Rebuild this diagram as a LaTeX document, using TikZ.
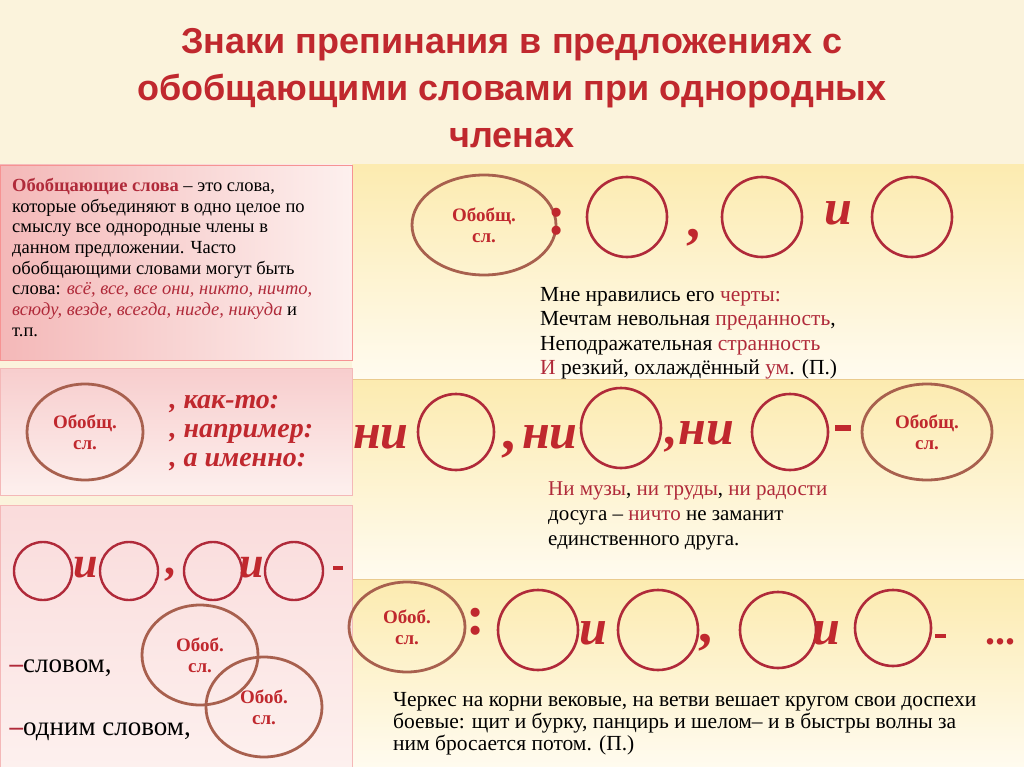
\documentclass[tikz,border=0pt]{standalone}
\usepackage{fontspec}
\setmainfont{Liberation Serif}
\newfontfamily\titlefont{Liberation Sans}
\usetikzlibrary{shapes.geometric}
\definecolor{tred}{HTML}{C0282E}
\definecolor{cred}{HTML}{B02A3A}
\definecolor{brn}{HTML}{A8604E}
\definecolor{bg}{HTML}{FBF3DC}
\definecolor{pinkA}{HTML}{F4B8B8}
\definecolor{pinkB}{HTML}{FDF0EE}
\definecolor{yelA}{HTML}{FCEBB0}
\definecolor{yelB}{HTML}{FFFBEF}
\tikzset{
 x=1pt,y=-1pt,
 ring/.style={draw=cred,line width=2.6pt,circle,minimum size=80pt,inner sep=0},
 sring/.style={draw=cred,line width=2.4pt,circle,minimum size=58pt,inner sep=0},
 gen/.style={draw=brn,line width=2.8pt,ellipse,text=tred,font=\fontsize{19}{21}\selectfont\bfseries,align=center,inner sep=0},
 sym/.style={text=tred,font=\fontsize{56}{56}\selectfont\bfseries},
 isym/.style={text=tred,font=\fontsize{50}{50}\selectfont\bfseries\itshape},
 dsh/.style={fill=tred},
 body/.style={anchor=north west,align=left,font=\fontsize{21.5}{24.5}\selectfont,inner sep=0},
}
\begin{document}
\begin{tikzpicture}
\useasboundingbox (0,0) rectangle (1024,767);
\fill[bg] (0,0) rectangle (1024,767);
\node[text=tred,font=\titlefont\fontsize{36}{47}\selectfont\bfseries,align=center] (title) at (512,88)
 {Знаки препинания в предложениях с\\обобщающими словами при однородных\\членах};
% panels
\shade[top color=yelA,bottom color=yelB] (352,165) rectangle (1024,378);
\shade[top color=yelA,bottom color=yelB] (352,380) rectangle (1024,578);
\shade[top color=yelA,bottom color=yelB] (352,580) rectangle (1024,767);
\draw[yelA!70!brown,line width=1pt] (352,379) -- (1024,379) (352,579) -- (1024,579);
\shade[left color=pinkA,right color=pinkB,draw=pinkA!80!red] (0,165) rectangle (352,360);
\shade[top color=pinkA!70,bottom color=pinkB,draw=pinkA] (0,368) rectangle (352,495);
\shade[top color=pinkA!50,bottom color=pinkB,draw=pinkA] (0,505) rectangle (352,767);
% left 1
\node[body,font=\fontsize{18.5}{20.7}\selectfont] (def) at (12,178) {\textcolor{cred}{\textbf{Обобщающие слова}} -- это слова,\\которые объединяют в одно целое по\\смыслу все однородные члены в\\данном предложении. Часто\\обобщающими словами могут быть\\слова: \textcolor{cred}{\itshape всё, все, все они, никто, ничто,}\\\textcolor{cred}{\itshape всюду, везде, всегда, нигде, никуда} и\\т.п.};
% left 2
\node[gen,minimum width=116pt,minimum height=96pt] (g1) at (85,432) {Обобщ.\\сл.};
\node[anchor=west,text=tred,font=\fontsize{28}{29}\selectfont\bfseries\itshape,align=left] (kak) at (166,433) {, как-то:\\, например:\\, а именно:};
% left 3
\node[sring] (l1) at (43,571) {};
\node[isym,font=\fontsize{44}{44}\selectfont\bfseries\itshape] (li1) at (86,568) {и};
\node[sring] (l2) at (129,571) {};
\node[sym,font=\fontsize{44}{44}\selectfont\bfseries] (lc) at (170,575) {,};
\node[sring] (l3) at (213,571) {};
\node[isym,font=\fontsize{44}{44}\selectfont\bfseries\itshape] (li2) at (252,568) {и};
\node[sring] (l4) at (294,571) {};
\node[dsh,minimum width=10pt,minimum height=4pt,inner sep=0] (ld) at (338,568) {};
\node[anchor=west,font=\fontsize{27}{27}\selectfont] (sl1) at (6,668) {\textcolor{cred}{\textbf{–}}словом,};
\node[anchor=west,font=\fontsize{27}{27}\selectfont] (sl2) at (6,732) {\textcolor{cred}{\textbf{–}}одним словом,};
\node[gen,minimum width=116pt,minimum height=100pt] (g2) at (200,655) {Обоб.\\сл.};
\node[gen,minimum width=116pt,minimum height=100pt] (g3) at (264,707) {Обоб.\\сл.};
% right 1
\node[gen,minimum width=144pt,minimum height=100pt] (g4) at (484,225) {Обобщ.\\сл.};
\node[sym] (c1) at (557,222) {:};
\node[ring] (r1) at (627,217) {};
\node[sym] (cm1) at (693,238) {,};
\node[ring] (r2) at (762,217) {};
\node[isym] (i1) at (838,213) {и};
\node[ring] (r3) at (912,217) {};
\node[body] (ex1) at (540,287) {Мне нравились его \textcolor{cred}{черты:}\\Мечтам невольная \textcolor{cred}{преданность},\\Неподражательная \textcolor{cred}{странность}\\\textcolor{cred}{И} резкий, охлаждённый \textcolor{cred}{ум}. (П.)};
% right 2
\node[isym] (n1) at (381,437) {ни};
\node[ring,minimum size=76pt] (r4) at (456,432) {};
\node[sym] (cm2) at (508,450) {,};
\node[isym] (n2) at (550,437) {ни};
\node[ring] (r5) at (621,428) {};
\node[isym] (n3) at (700,437) {,ни};
\node[ring,minimum size=76pt] (r6) at (790,432) {};
\node[dsh,minimum width=16pt,minimum height=6pt,inner sep=0] (d2) at (843,428) {};
\node[gen,minimum width=130pt,minimum height=96pt] (g5) at (927,432) {Обобщ.\\сл.};
\node[body,font=\fontsize{21}{25}\selectfont] (ex2) at (548,482) {\textcolor{cred}{Ни музы}, \textcolor{cred}{ни труды}, \textcolor{cred}{ни радости}\\досуга -- \textcolor{cred}{ничто} не заманит\\единственного друга.};
% right 3
\node[gen,minimum width=116pt,minimum height=90pt] (g6) at (407,627) {Обоб.\\сл.};
\node[sym] (c3) at (476,622) {:};
\node[ring] (r7) at (538,630) {};
\node[isym] (i3) at (593,633) {и};
\node[ring] (r8) at (658,630) {};
\node[sym] (cm3) at (705,643) {,};
\node[ring,minimum size=76pt] (r9) at (778,630) {};
\node[isym] (i4) at (826,633) {и};
\node[ring,minimum size=76pt] (r10) at (893,628) {};
\node[dsh,minimum width=11pt,minimum height=4pt,inner sep=0] (d3) at (940,636) {};
\node[sym,font=\fontsize{40}{40}\selectfont\bfseries] (dots) at (1000,642) {...};
\node[body,font=\fontsize{21.5}{22}\selectfont] (ex3) at (393,692) {Черкес на корни вековые, на ветви вешает кругом свои доспехи\\боевые: щит и  бурку, панцирь и шелом-- и в быстры волны за\\ним бросается потом. (П.)};
\end{tikzpicture}
\end{document}
